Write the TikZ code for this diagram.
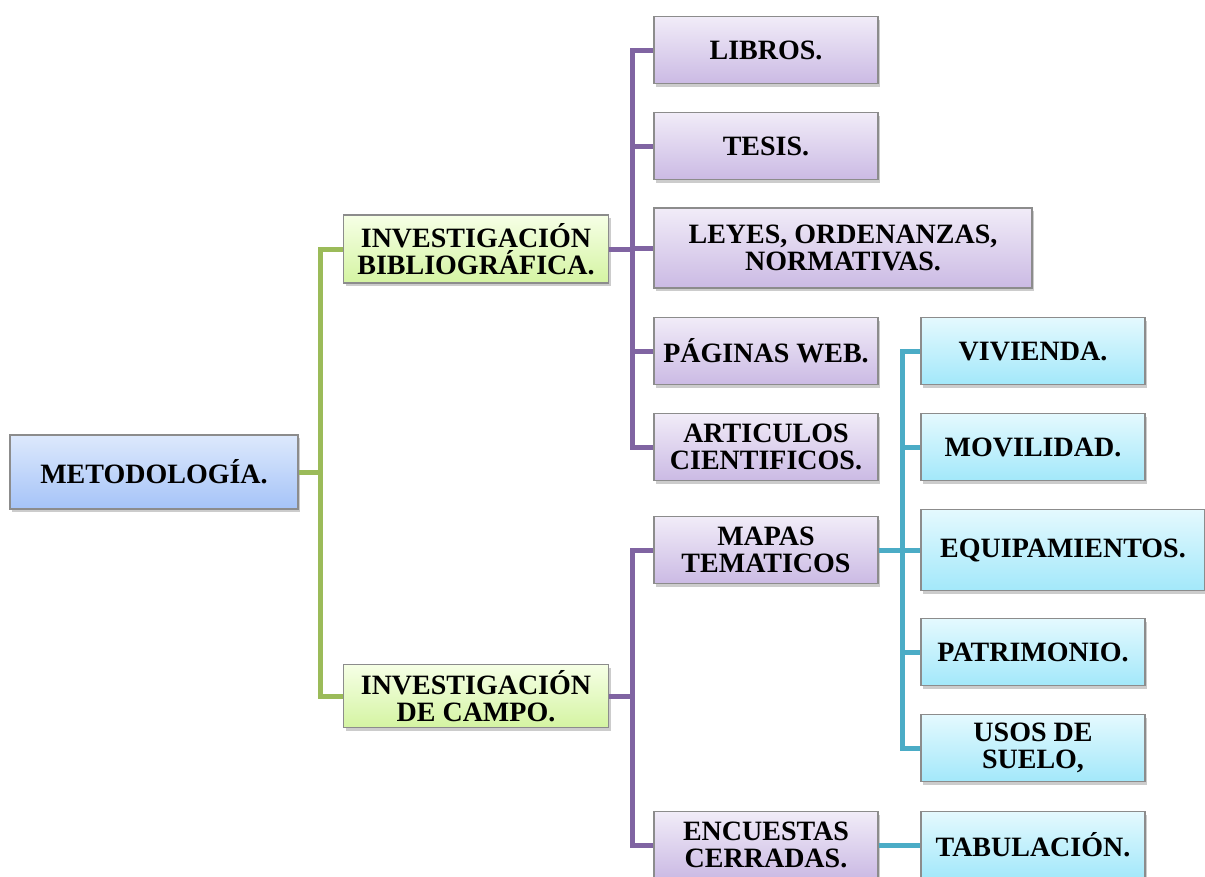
\documentclass[tikz,border=0pt]{standalone}
\usepackage{fontspec}
\setmainfont{Liberation Serif}
\usetikzlibrary{shadows}
\definecolor{bluetop}{HTML}{DDE9FC}
\definecolor{bluebot}{HTML}{A5C3F8}
\definecolor{greentop}{HTML}{F6FFE6}
\definecolor{greenbot}{HTML}{D4F4A2}
\definecolor{purptop}{HTML}{F1ECF8}
\definecolor{purpbot}{HTML}{CBBAE4}
\definecolor{cyantop}{HTML}{E4F9FE}
\definecolor{cyanbot}{HTML}{A3E8FA}
\definecolor{greenln}{HTML}{9BBB59}
\definecolor{purpln}{HTML}{8064A2}
\definecolor{cyanln}{HTML}{4BACC6}
\begin{document}
\begin{tikzpicture}[x=1pt,y=-1pt,
    box/.style={draw=black!45,line width=1.2pt,rectangle,inner sep=0pt,align=center,
      font=\fontsize{28}{27}\selectfont\bfseries,
      drop shadow={shadow xshift=2pt,shadow yshift=-3pt,opacity=0.4}},
    metobox/.style={box,top color=bluetop,bottom color=bluebot},
    invbox/.style={box,top color=greentop,bottom color=greenbot,minimum width=265pt},
    srcbox/.style={box,top color=purptop,bottom color=purpbot,minimum width=224pt,minimum height=67pt},
    mapbox/.style={box,top color=cyantop,bottom color=cyanbot,minimum width=224pt,minimum height=67pt},
    grn/.style={greenln,line width=5pt},
    prp/.style={purpln,line width=5pt},
    cyn/.style={cyanln,line width=5pt}]
    \useasboundingbox (0,0) rectangle (1205,876);
    \node[metobox,minimum width=288pt,minimum height=74pt] (meto) at (154,472) {METODOLOGÍA.};
    
    \node[invbox,minimum height=68pt] (bib) at (476,249) {INVESTIGACIÓN\\BIBLIOGRÁFICA.};
    \node[invbox,minimum height=63pt] (campo) at (476,696) {INVESTIGACIÓN\\DE CAMPO.};
    
    \node[srcbox] (libros) at (766,50) {LIBROS.};
    \node[srcbox] (tesis) at (766,146) {TESIS.};
    \node[srcbox,minimum width=378pt,minimum height=80pt] (leyes) at (843,248) {LEYES, ORDENANZAS,\\NORMATIVAS.};
    \node[srcbox] (web) at (766,351) {PÁGINAS WEB.};
    \node[srcbox] (art) at (766,447) {ARTICULOS\\CIENTIFICOS.};
    \node[srcbox] (mapas) at (766,550) {MAPAS\\TEMATICOS};
    \node[srcbox] (enc) at (766,845) {ENCUESTAS\\CERRADAS.};
    
    \node[mapbox] (viv) at (1033,351) {VIVIENDA.};
    \node[mapbox] (mov) at (1033,447) {MOVILIDAD.};
    \node[mapbox,minimum width=284pt,minimum height=81pt] (equip) at (1063,550) {EQUIPAMIENTOS.};
    \node[mapbox] (patr) at (1033,652) {PATRIMONIO.};
    \node[mapbox] (usos) at (1033,748) {USOS DE\\SUELO,};
    \node[mapbox] (tab) at (1033,845) {TABULACIÓN.};
    
    \coordinate (gx) at (320,0);
    \coordinate (px) at (632,0);
    \coordinate (cx) at (902,0);
    
    \draw[grn] (meto.east) -- (meto.east-|gx) |- (bib.west)
               (meto.east-|gx) |- (campo.west);
    \foreach \n in {libros,tesis,leyes,web,art}
      \draw[prp] (bib.east) -- (bib.east-|px) |- (\n.west);
    \foreach \n in {mapas,enc}
      \draw[prp] (campo.east) -- (campo.east-|px) |- (\n.west);
    \foreach \n in {viv,mov,equip,patr,usos}
      \draw[cyn] (mapas.east) -- (mapas.east-|cx) |- (\n.west);
    \draw[cyn] (enc) -- (tab);
  \end{tikzpicture}
\end{document}
